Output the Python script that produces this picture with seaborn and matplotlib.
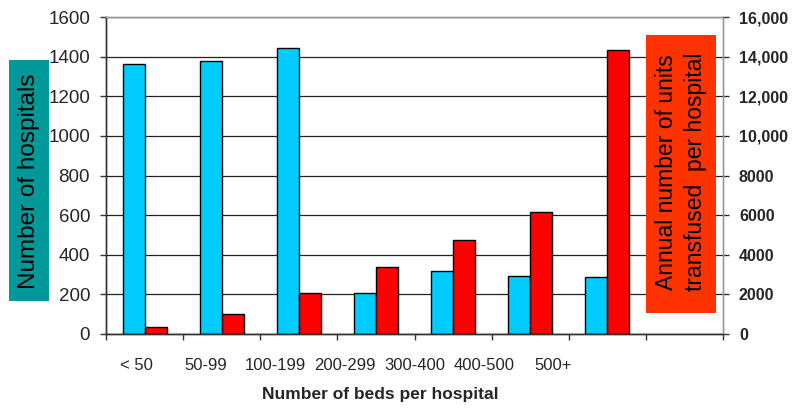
import numpy as np
import pandas as pd
import seaborn as sns
import matplotlib.pyplot as plt
from matplotlib.patches import Rectangle

# data
bed_groups = ['< 50', '50-99', '100-199', '200-299', '300-400', '400-500', '500+']
hospitals = [1363, 1377, 1444, 205, 318, 295, 288]
units_per_hospital = [370, 1010, 2050, 3400, 4730, 6150, 14310]

left_ticks = [0, 200, 400, 600, 800, 1000, 1200, 1400, 1600]
right_ticks = [0, 2000, 4000, 6000, 8000, 10000, 12000, 14000, 16000]
right_tick_labels = ['0', '2000', '4000', '6000', '8000', '10,000', '12,000', '14,000', '16,000']

series_names = ['Hospitals', 'Units']
palette = {'Hospitals': '#00CCFF', 'Units': '#FF0000'}

df = pd.DataFrame({
    'beds': bed_groups * 2,
    'series': ['Hospitals'] * len(bed_groups) + ['Units'] * len(bed_groups),
    'value': hospitals + units_per_hospital,
})

sns.set_style('ticks')
plt.rcParams['font.family'] = ['Liberation Sans', 'DejaVu Sans']

fig = plt.figure(figsize=(7.92, 4.09), dpi=100)
ax = fig.add_axes([106 / 792, 1 - 334 / 409, 617 / 792, 317 / 409])
ax2 = ax.twinx()

# one empty slot on the right, as in the original
order = bed_groups + ['']

bar_kw = dict(x='beds', y='value', hue='series', hue_order=series_names, order=order,
              palette=palette, saturation=1, width=0.57, dodge=True,
              edgecolor='black', linewidth=1, errorbar=None, legend=False)
sns.barplot(data=df[df['series'] == 'Hospitals'], ax=ax, **bar_kw)
sns.barplot(data=df[df['series'] == 'Units'], ax=ax2, **bar_kw)

n_slots = len(order)
ax.set_xlim(-0.5, n_slots - 0.5)

# category boundaries get tick marks, labels sit on minor ticks (slightly left, like the source)
ax.xaxis.remove_overlapping_locs = False
ax.set_xticks(np.arange(n_slots + 1) - 0.5, labels=[''] * (n_slots + 1))
label_pos = [-0.1 + 0.9 * i for i in range(len(bed_groups))]
ax.set_xticks(label_pos, minor=True)
ax.set_xticklabels(bed_groups, minor=True)
ax.tick_params(axis='x', which='major', bottom=True, length=4.5, width=1, color='#333333')
ax.tick_params(axis='x', which='minor', bottom=True, length=0, pad=17, labelsize=12)

ax.set_ylim(0, 1600)
ax.set_yticks(left_ticks)
ax.tick_params(axis='y', left=True, length=4.5, width=1, pad=7, labelsize=13.5, color='#333333')
ax.yaxis.grid(True, color='#222222', linewidth=0.9)
ax.set_axisbelow(True)

ax2.set_ylim(0, 16000)
ax2.set_yticks(right_ticks, labels=right_tick_labels)
ax2.tick_params(axis='y', right=True, length=4.5, width=1, pad=7, labelsize=11.5, color='#333333')
for t in ax2.get_yticklabels():
    t.set_fontweight('bold')

ax.set_ylabel('')
ax2.set_ylabel('')
ax.set_xlabel('Number of beds per hospital', fontsize=12.5, fontweight='bold')
ax.xaxis.set_label_coords(0.444, -0.167)

for a in (ax, ax2):
    a.spines['left'].set_color('#333333')
    a.spines['bottom'].set_color('#333333')
    a.spines['top'].set_visible(True)
    a.spines['right'].set_visible(True)
    a.spines['top'].set_color('#999999')
    a.spines['right'].set_color('#999999')
    for s in a.spines.values():
        s.set_linewidth(1)

# coloured axis title boxes
fig.add_artist(Rectangle((9 / 792, 1 - 301 / 409), 40 / 792, 241 / 409,
                         transform=fig.transFigure, facecolor='#009999', edgecolor='none', zorder=2))
fig.text(29 / 792, 1 - 181 / 409, 'Number of hospitals', rotation=90, ha='center', va='center',
         fontsize=17.5, color='black', zorder=3)

fig.add_artist(Rectangle((646 / 792, 1 - 313 / 409), 70 / 792, 278 / 409,
                         transform=fig.transFigure, facecolor='#FF3300', edgecolor='none', zorder=2))
fig.text(681 / 792, 1 - 172 / 409, 'Annual number of units\ntransfused  per hospital', rotation=90,
         ha='center', va='center', multialignment='center', linespacing=1.3,
         fontsize=16.5, color='black', zorder=3)

fig.savefig('out.png', dpi=100)
